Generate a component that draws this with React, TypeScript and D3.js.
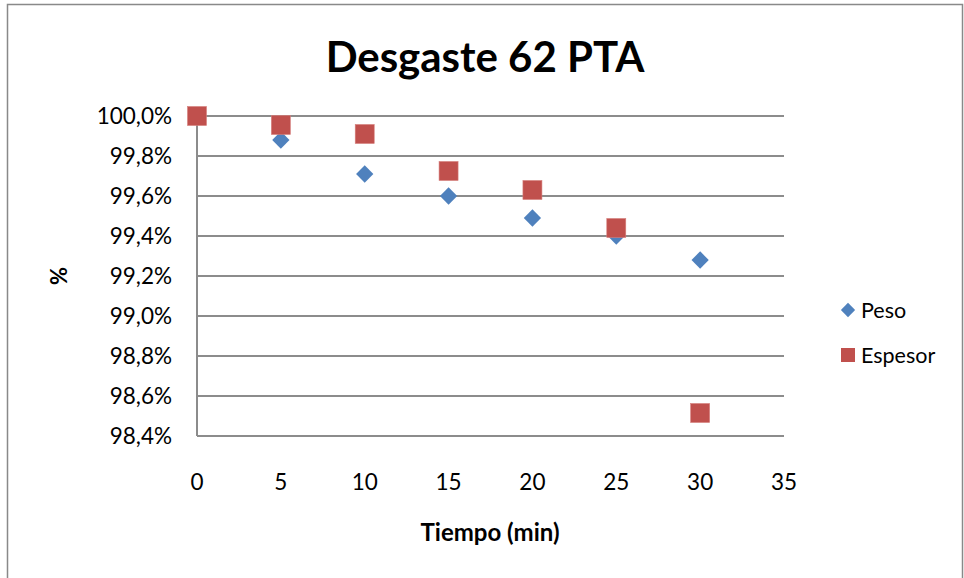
import {useEffect, useRef} from "react";
import * as d3 from 'd3'

const minutes = [0, 5, 10, 15, 20, 25, 30]
const peso = [100.0, 99.88, 99.71, 99.60, 99.49, 99.40, 99.28]
const espesor = [100.0, 99.955, 99.91, 99.725, 99.63, 99.44, 98.515]
const yTicks = [98.4, 98.6, 98.8, 99.0, 99.2, 99.4, 99.6, 99.8, 100.0]
const xTicks = [0, 5, 10, 15, 20, 25, 30, 35]
const seriesNames = ["Peso", "Espesor"]

const BLUE = "#4F81BD"
const RED = "#C0504D"
const FONT = "Lato, 'Open Sans', sans-serif"

const App = () => {
    const svgRef = useRef<SVGSVGElement>(null)

    useEffect(() => {
        const svg = d3.select(svgRef.current)
        svg.selectAll("*").remove()

        const x = d3.scaleLinear().domain([0, 35]).range([197, 784])
        const y = d3.scaleLinear().domain([98.4, 100.0]).range([436, 116])

        // outer frame
        svg.append("rect")
            .attr("x", 7.5).attr("y", 4.5)
            .attr("width", 955).attr("height", 590)
            .attr("fill", "white").attr("stroke", "#898989").attr("stroke-width", 1.5)

        // gridlines
        svg.append("g").selectAll("line")
            .data(yTicks)
            .join("line")
            .attr("x1", x(0)).attr("x2", x(35))
            .attr("y1", d => y(d)).attr("y2", d => y(d))
            .attr("stroke", "#8c8c8c").attr("stroke-width", 2)

        // y axis line
        svg.append("line")
            .attr("x1", x(0)).attr("x2", x(0))
            .attr("y1", y(100)).attr("y2", y(98.4))
            .attr("stroke", "#8c8c8c").attr("stroke-width", 2)

        const fmt = (d: number) => d.toFixed(1).replace(".", ",") + "%"

        svg.append("g").selectAll("text")
            .data(yTicks)
            .join("text")
            .attr("x", 172).attr("y", d => y(d) + 8)
            .attr("text-anchor", "end")
            .attr("font-family", FONT).attr("font-size", 22.5).attr("fill", "#000")
            .text(fmt)

        svg.append("g").selectAll("text")
            .data(xTicks)
            .join("text")
            .attr("x", d => x(d)).attr("y", 490)
            .attr("text-anchor", "middle")
            .attr("font-family", FONT).attr("font-size", 22.5).attr("fill", "#000")
            .text(d => String(d))

        // title and axis titles
        svg.append("text")
            .attr("x", 485).attr("y", 72)
            .attr("text-anchor", "middle")
            .attr("font-family", FONT).attr("font-size", 42).attr("font-weight", "bold")
            .text("Desgaste 62 PTA")

        svg.append("text")
            .attr("x", 490).attr("y", 541)
            .attr("text-anchor", "middle")
            .attr("font-family", FONT).attr("font-size", 24).attr("font-weight", "bold")
            .text("Tiempo (min)")

        svg.append("text")
            .attr("transform", "translate(67,276) rotate(-90)")
            .attr("text-anchor", "middle")
            .attr("font-family", FONT).attr("font-size", 22).attr("font-weight", "bold")
            .text("%")

        const diamond = d3.symbol().type(d3.symbolDiamond2).size(190)

        svg.append("g").selectAll("path")
            .data(minutes)
            .join("path")
            .attr("transform", (d, i) => `translate(${x(d)},${y(peso[i])})`)
            .attr("d", diamond())
            .attr("fill", BLUE)

        svg.append("g").selectAll("rect")
            .data(minutes)
            .join("rect")
            .attr("x", d => x(d) - 9.5)
            .attr("y", (d, i) => y(espesor[i]) - 9.5)
            .attr("width", 19).attr("height", 19)
            .attr("fill", RED).attr("stroke", "#d67f7c").attr("stroke-width", 0.6)

        // legend
        const lg = svg.append("g")
        seriesNames.forEach((name, i) => {
            const cy = 310 + i * 45
            if (i === 0) {
                lg.append("path")
                    .attr("transform", `translate(848,${cy})`)
                    .attr("d", d3.symbol().type(d3.symbolDiamond2).size(130)())
                    .attr("fill", BLUE)
            } else {
                lg.append("rect")
                    .attr("x", 841).attr("y", cy - 7)
                    .attr("width", 14).attr("height", 14)
                    .attr("fill", RED)
            }
            lg.append("text")
                .attr("x", 861).attr("y", cy + 8)
                .attr("font-family", FONT).attr("font-size", 21.5)
                .text(name)
        })
    }, [])

    return (
        <svg ref={svgRef} width={964} height={578}
             style={{position: "absolute", left: 0, top: 0, background: "white"}}/>
    )
}

export default App
